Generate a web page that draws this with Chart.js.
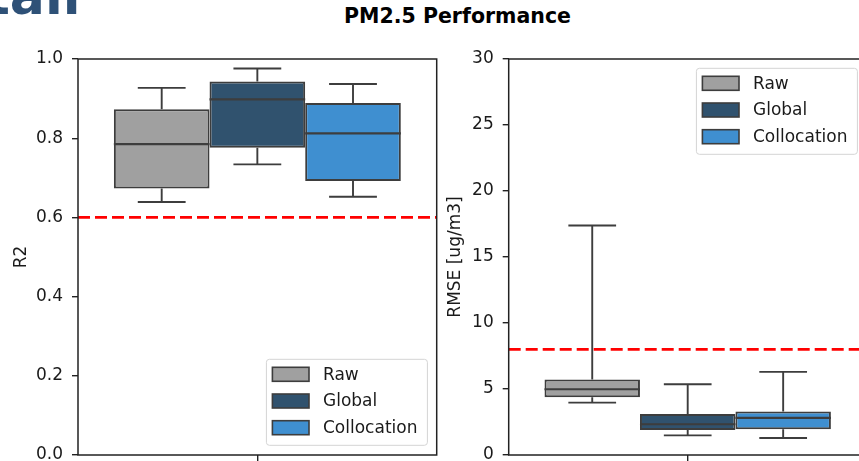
<!DOCTYPE html>
<html>
<head>
<meta charset="utf-8">
<script src="https://cdn.jsdelivr.net/npm/chart.js@4.4.1/dist/chart.umd.min.js"></script>
<style>
  html, body { margin:0; padding:0; background:#fff; width:859px; height:461px; overflow:hidden; position:relative; }
  #logo { position:absolute; left:-15px; top:-30.5px; font-family:"DejaVu Sans"; font-weight:bold; font-size:52px; line-height:52px; height:52px; color:#2e5177; white-space:nowrap; }
  #title { position:absolute; left:0; top:4.3px; width:915px; text-align:center; font-family:"DejaVu Sans"; font-weight:bold; font-size:20.5px; line-height:24px; height:24px; color:#000; }
  .wrap { position:absolute; top:0; }
  canvas { display:block; }
</style>
</head>
<body>
<div id="logo">tall</div>
<div id="title">PM2.5 Performance</div>
<div class="wrap" style="left:0px"><canvas id="c1" width="450" height="500"></canvas></div>
<div class="wrap" style="left:430px"><canvas id="c2" width="450" height="500"></canvas></div>
<script>
// ---------- data ----------
const groups = ['Raw', 'Global', 'Collocation'];
const groupColors = ['#a0a0a0', '#30526e', '#3f8fd0'];

const r2Q1 = [0.673, 0.776, 0.692];
const r2Q3 = [0.873, 0.943, 0.889];
const r2Median = [0.785, 0.898, 0.812];
const r2WhiskerLow = [0.639, 0.734, 0.652];
const r2WhiskerHigh = [0.927, 0.976, 0.937];
const r2Threshold = 0.6;

const rmseQ1 = [4.37, 1.90, 1.95];
const rmseQ3 = [5.72, 3.11, 3.29];
const rmseMedian = [4.98, 2.33, 2.81];
const rmseWhiskerLow = [3.97, 1.49, 1.29];
const rmseWhiskerHigh = [17.39, 5.36, 6.30];
const rmseThreshold = 8;

const r2Axis = { min: 0, max: 1, step: 0.2, title: 'R2', decimals: 1 };
const rmseAxis = { min: 0, max: 30, step: 5, title: 'RMSE [ug/m3]', decimals: 0 };

// ---------- styles ----------
const FONT = 'DejaVu Sans';
const EDGE = '#3d3d3d';
const TXT = '#1a1a1a';

function boxPlugin(med, lo, hi, threshold, legendPos) {
  return {
    id: 'boxExtras',
    afterDatasetsDraw(chart) {
      const ctx = chart.ctx;
      const y = chart.scales.y;
      const ca = chart.chartArea;
      ctx.save();
      chart.data.datasets.forEach((ds, i) => {
        const bar = chart.getDatasetMeta(i).data[0];
        const x = bar.x, w = bar.width;
        const top = Math.min(bar.y, bar.base), bot = Math.max(bar.y, bar.base);
        ctx.strokeStyle = EDGE;
        ctx.lineWidth = 1.9;
        ctx.beginPath();
        ctx.moveTo(x, top); ctx.lineTo(x, y.getPixelForValue(hi[i]));
        ctx.moveTo(x, bot); ctx.lineTo(x, y.getPixelForValue(lo[i]));
        ctx.moveTo(x - w / 4, y.getPixelForValue(hi[i])); ctx.lineTo(x + w / 4, y.getPixelForValue(hi[i]));
        ctx.moveTo(x - w / 4, y.getPixelForValue(lo[i])); ctx.lineTo(x + w / 4, y.getPixelForValue(lo[i]));
        ctx.stroke();
        ctx.lineWidth = 2.2;
        ctx.beginPath();
        ctx.moveTo(x - w / 2, y.getPixelForValue(med[i])); ctx.lineTo(x + w / 2, y.getPixelForValue(med[i]));
        ctx.stroke();
      });
      // threshold
      const ty = y.getPixelForValue(threshold);
      ctx.strokeStyle = '#ff0000';
      ctx.lineWidth = 2.6;
      ctx.setLineDash([12, 5]);
      ctx.beginPath();
      ctx.moveTo(ca.left, ty); ctx.lineTo(ca.right, ty);
      ctx.stroke();
      ctx.restore();
    },
    afterDraw(chart) {
      const ctx = chart.ctx;
      const ca = chart.chartArea;
      ctx.save();
      // spines
      ctx.strokeStyle = '#222';
      ctx.lineWidth = 1.5;
      ctx.strokeRect(ca.left, ca.top, ca.right - ca.left, ca.bottom - ca.top);
      // legend
      const lw = 161, lh = 86;
      const lx = ca.right - 9.3 - lw;
      const ly = legendPos === 'lr' ? ca.bottom - 9.7 - lh : ca.top + 9.3;
      ctx.fillStyle = 'rgba(255,255,255,0.8)';
      ctx.strokeStyle = '#d4d4d4';
      ctx.lineWidth = 1;
      ctx.beginPath();
      ctx.roundRect(lx, ly, lw, lh, 3);
      ctx.fill(); ctx.stroke();
      ctx.font = '17px "' + FONT + '"';
      ctx.textBaseline = 'middle';
      ctx.textAlign = 'left';
      chart.data.datasets.forEach((ds, i) => {
        const cy = ly + 15 + i * 26.7;
        ctx.fillStyle = ds.backgroundColor;
        ctx.fillRect(lx + 6, cy - 7, 36.6, 14);
        ctx.strokeStyle = EDGE;
        ctx.lineWidth = 1.6;
        ctx.strokeRect(lx + 6, cy - 7, 36.6, 14);
        ctx.fillStyle = TXT;
        ctx.fillText(ds.label, lx + 56.6, cy + 1);
      });
      ctx.restore();
    }
  };
}

function makeChart(id, q1, q3, med, lo, hi, threshold, axis, yWidth, titlePad, legendPos) {
  const datasets = groups.map((g, i) => ({
    label: g,
    data: [[q1[i], q3[i]]],
    backgroundColor: groupColors[i],
    borderColor: EDGE,
    borderWidth: 2,
    borderSkipped: false,
    barPercentage: 1.0,
    categoryPercentage: 0.8
  }));
  return new Chart(document.getElementById(id), {
    type: 'bar',
    data: { labels: [''], datasets },
    options: {
      responsive: false,
      animation: false,
      devicePixelRatio: 1,
      layout: { padding: { left: 0, right: 13.3, top: 59, bottom: 15 } },
      plugins: { legend: { display: false }, tooltip: { enabled: false } },
      scales: {
        x: {
          type: 'category',
          offset: true,
          border: { display: false },
          grid: { drawOnChartArea: false, drawTicks: true, tickLength: 7, offset: false, color: '#222', lineWidth: 1.4 },
          ticks: { display: true, font: { family: FONT, size: 17 }, color: TXT },
          afterFit(s) { s.height = 30; }
        },
        y: {
          min: axis.min, max: axis.max,
          border: { display: false },
          grid: { drawOnChartArea: false, drawTicks: true, tickLength: 6, color: '#222', lineWidth: 1.4 },
          ticks: {
            stepSize: axis.step, padding: 9,
            font: { family: FONT, size: 17 }, color: TXT,
            callback: v => Number(v).toFixed(axis.decimals)
          },
          title: { display: true, text: axis.title, font: { family: FONT, size: 17 }, color: TXT, padding: { top: titlePad, bottom: 0 } },
          afterFit(s) { s.width = yWidth; }
        }
      }
    },
    plugins: [boxPlugin(med, lo, hi, threshold, legendPos)]
  });
}

makeChart('c1', r2Q1, r2Q3, r2Median, r2WhiskerLow, r2WhiskerHigh, r2Threshold, r2Axis, 78, 11.5, 'lr');
makeChart('c2', rmseQ1, rmseQ3, rmseMedian, rmseWhiskerLow, rmseWhiskerHigh, rmseThreshold, rmseAxis, 78.7, 15, 'ur');
</script>
</body>
</html>
